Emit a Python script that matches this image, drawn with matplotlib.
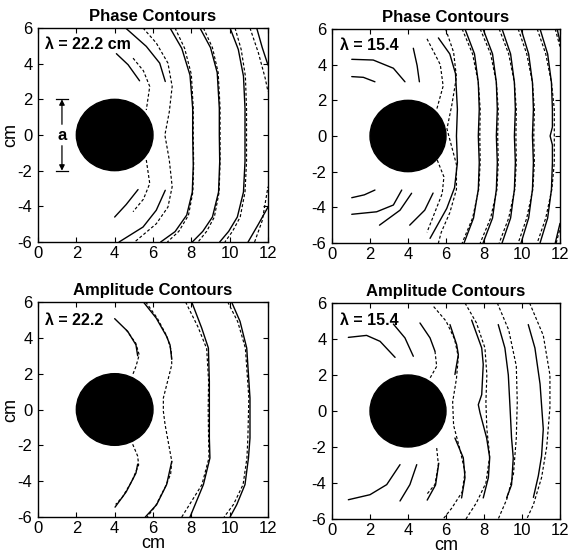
import matplotlib
matplotlib.use("Agg")
import matplotlib.pyplot as plt
from matplotlib.patches import Ellipse

plt.rcParams['font.family'] = ['Liberation Sans', 'DejaVu Sans']
plt.rcParams['axes.unicode_minus'] = False

# ---------------- data (x, y in cm) ----------------
titles = ["Phase Contours", "Phase Contours", "Amplitude Contours", "Amplitude Contours"]
labels = ["\u03bb = 22.2 cm", "\u03bb = 15.4", "\u03bb = 22.2", "\u03bb = 15.4"]
label_pos = [(0.35, 4.82), (0.44, 4.84), (0.35, 4.74), (0.44, 4.79)]
cyl_center = (4.0, 0.0)
cyl_diameter = 4.0

# Panel 1: phase, lambda = 22.2
p1_solid = [
    [(4.09, 4.56), (4.7, 3.94), (5.3, 3.04)],
    [(4.0, -4.6), (4.6, -3.9), (5.22, -3.06)],
    [(4.57, 6.0), (5.65, 4.97), (6.35, 4.03), (6.64, 3.0)],
    [(6.64, -3.1), (6.17, -4.22), (5.48, -5.16), (4.23, -6.0)],
    [(6.89, 6.0), (7.5, 4.86), (7.93, 3.36), (8.07, 1.5), (8.07, 0.0), (8.1, -1.7), (8.05, -3.2), (7.76, -4.49), (7.15, -5.42), (6.4, -6.0)],
    [(8.45, 6.0), (9.0, 4.9), (9.35, 3.5), (9.46, 1.5), (9.46, 0.0), (9.48, -1.5), (9.42, -3.2), (9.1, -4.6), (8.6, -5.4), (8.05, -6.0)],
    [(10.02, 6.0), (10.45, 4.8), (10.72, 3.3), (10.8, 1.5), (10.8, 0.0), (10.8, -1.5), (10.72, -3.2), (10.4, -4.6), (9.95, -5.4), (9.48, -6.0)],
    [(11.41, 6.0), (11.7, 4.9), (12.0, 3.92)],
    [(10.96, -6.0), (11.5, -5.0), (12.0, -4.04)],
]
p1_dashed = [
    [(4.96, 4.31), (5.5, 3.6), (5.83, 2.72), (5.65, 1.4)],
    [(5.65, -1.4), (5.83, -2.72), (5.5, -3.6), (4.96, -4.3)],
    [(5.48, 6.0), (6.17, 5.16), (6.78, 4.03), (7.0, 2.72), (6.85, 1.3), (6.62, 0.0), (6.85, -1.4), (7.0, -2.9), (6.78, -4.04), (6.17, -4.98), (5.04, -6.0)],
    [(7.15, 6.0), (7.65, 4.86), (8.0, 3.4), (8.1, 1.5), (8.1, 0.0), (8.12, -1.7), (8.08, -3.2), (7.85, -4.5), (7.35, -5.4), (6.75, -6.0)],
    [(8.63, 6.0), (9.1, 4.9), (9.4, 3.5), (9.5, 1.5), (9.5, 0.0), (9.5, -1.5), (9.45, -3.2), (9.2, -4.6), (8.8, -5.4), (8.35, -6.0)],
    [(10.28, 6.0), (10.6, 4.8), (10.82, 3.3), (10.88, 1.5), (10.88, 0.0), (10.88, -1.5), (10.8, -3.2), (10.55, -4.6), (10.15, -5.4), (9.75, -6.0)],
    [(11.06, 6.0), (11.5, 4.6), (11.85, 3.2), (12.0, 2.43)],
    [(11.3, -6.0), (11.7, -4.8), (12.0, -2.9)],
]

# Panel 2: phase, lambda = 15.4
p2_solid = [
    [(1.04, 3.33), (1.65, 3.29), (2.26, 3.04)],
    [(1.04, 4.30), (2.17, 4.26), (3.23, 3.80), (3.84, 3.04)],
    [(4.28, 4.92), (4.48, 3.95), (4.6, 3.04)],
    [(1.04, -3.46), (1.7, -3.3), (2.26, -3.03)],
    [(1.04, -4.39), (2.35, -4.25), (3.23, -3.87), (3.67, -3.03)],
    [(2.5, -5.0), (3.58, -4.16), (4.19, -3.21)],
    [(4.09, -5.0), (4.88, -4.16), (5.32, -3.2)],
    [(5.6, 5.5), (6.2, 4.6), (6.5, 3.5), (6.6, 1.5), (6.55, 0.0), (6.6, -1.5), (6.45, -2.9), (6.04, -4.06), (5.16, -5.74)],
    [(7.0, 6.0), (7.5, 4.6), (7.7, 3.0), (7.75, 1.5), (7.7, 0.0), (7.75, -1.5), (7.7, -3.0), (7.45, -4.6), (6.95, -6.0)],
    [(7.95, 6.0), (8.45, 4.6), (8.65, 3.0), (8.7, 1.5), (8.65, 0.0), (8.7, -1.5), (8.65, -3.0), (8.45, -4.6), (7.95, -6.0)],
    [(8.95, 6.0), (9.4, 4.6), (9.6, 3.0), (9.65, 1.5), (9.6, 0.0), (9.65, -1.5), (9.6, -3.0), (9.4, -4.6), (8.95, -6.0)],
    [(9.95, 6.0), (10.35, 4.6), (10.55, 3.0), (10.6, 1.5), (10.55, 0.0), (10.6, -1.5), (10.55, -3.0), (10.35, -4.6), (9.95, -6.0)],
    [(10.95, 6.0), (11.35, 4.6), (11.55, 3.0), (11.6, 1.5), (11.6, 0.5), (11.48, 0.0), (11.6, -0.5), (11.6, -1.5), (11.55, -3.0), (11.35, -4.6), (10.95, -6.0)],
    [(11.85, 6.0), (12.0, 5.3)],
    [(11.75, -6.0), (12.0, -4.9)],
]
p2_dashed = [
    [(5.0, 5.45), (5.7, 4.0), (5.85, 2.8), (5.5, 1.45)],
    [(5.54, -1.35), (5.89, -2.29), (5.8, -3.23), (5.0, -5.4)],
    [(5.98, 6.0), (6.4, 4.7), (6.55, 3.3), (6.3, 1.7), (6.05, 0.4), (6.35, -0.8), (6.55, -1.6), (6.55, -3.0), (6.2, -4.3), (5.75, -5.4), (5.6, -6.0)],
    [(6.85, 6.0), (7.4, 4.6), (7.7, 3.0), (7.8, 1.5), (7.78, 0.0), (7.8, -1.5), (7.72, -3.0), (7.4, -4.6), (6.85, -6.0)],
    [(7.8, 6.0), (8.35, 4.6), (8.65, 3.0), (8.75, 1.5), (8.72, 0.0), (8.75, -1.5), (8.68, -3.0), (8.35, -4.6), (7.8, -6.0)],
    [(8.8, 6.0), (9.3, 4.6), (9.6, 3.0), (9.7, 1.5), (9.68, 0.0), (9.7, -1.5), (9.62, -3.0), (9.3, -4.6), (8.8, -6.0)],
    [(9.8, 6.0), (10.25, 4.6), (10.55, 3.0), (10.65, 1.5), (10.62, 0.0), (10.65, -1.5), (10.57, -3.0), (10.25, -4.6), (9.8, -6.0)],
    [(10.8, 6.0), (11.25, 4.6), (11.55, 3.0), (11.7, 1.5), (11.7, 0.0), (11.7, -1.5), (11.57, -3.0), (11.25, -4.6), (10.8, -6.0)],
    [(11.75, 6.0), (12.0, 5.0)],
    [(11.8, -6.0), (12.0, -5.2)],
]

# Panel 3: amplitude, lambda = 22.2
p3_solid = [
    [(4.0, 5.07), (4.68, 4.36), (5.11, 3.61), (5.2, 3.0)],
    [(5.2, -3.05), (5.11, -3.55), (4.6, -4.6), (4.02, -5.45)],
    [(5.5, 6.0), (6.17, 5.1), (6.7, 4.1), (6.89, 3.6), (6.98, 2.8)],
    [(6.98, -2.89), (6.71, -4.19), (6.19, -5.31), (5.6, -6.0)],
    [(8.02, 6.0), (8.54, 4.55), (8.89, 3.43), (8.94, 1.57), (8.94, -1.59), (8.97, -2.71), (8.63, -4.19), (7.93, -6.0)],
    [(10.1, 6.0), (10.54, 4.92), (10.89, 3.43), (11.06, 0.64), (11.06, -1.59), (10.98, -2.71), (10.8, -4.19), (10.37, -5.31), (10.02, -6.0)],
]
p3_dashed = [
    [(4.6, 4.45), (5.1, 3.7), (5.28, 3.05), (5.11, 2.4), (4.94, 1.94)],
    [(4.94, -1.94), (5.2, -2.6), (5.25, -3.1), (4.9, -4.0), (4.4, -4.9), (4.05, -5.3)],
    [(5.62, 6.0), (6.22, 5.1), (6.72, 4.1), (6.95, 3.3), (6.98, 2.5), (6.54, 0.64), (6.54, -0.1), (6.63, -0.84), (6.98, -2.89), (6.92, -3.6), (6.65, -4.3), (6.15, -5.35), (5.7, -6.0)],
    [(7.7, 6.0), (8.35, 4.6), (8.8, 3.4), (8.9, 1.6), (8.88, 0.0), (8.9, -1.6), (8.92, -2.7), (8.55, -4.2), (7.5, -6.0)],
    [(9.9, 6.0), (10.42, 4.9), (10.82, 3.43), (11.0, 0.64), (10.95, -1.59), (10.9, -2.71), (10.7, -4.19), (10.2, -5.3), (9.71, -6.0)],
]

# Panel 4: amplitude, lambda = 15.4
p4_solid = [
    [(0.86, 4.09), (1.82, 4.2), (2.53, 3.87), (3.32, 2.98)],
    [(3.23, 4.83), (3.84, 4.06), (4.28, 3.04)],
    [(4.63, 4.89), (5.16, 4.06), (5.42, 3.32)],
    [(0.86, -4.93), (2.0, -4.65), (2.88, -4.09), (3.58, -2.98)],
    [(3.58, -5.0), (4.1, -4.09), (4.46, -2.98)],
    [(5.01, -4.95), (5.45, -4.11), (5.62, -2.9)],
    [(6.21, 4.8), (6.56, 3.69), (6.65, 3.13), (6.47, 2.03)],
    [(6.47, -1.5), (6.91, -2.6), (7.0, -3.7), (6.82, -4.83)],
    [(7.35, 5.05), (7.88, 3.5), (7.96, 2.59), (7.88, 0.91), (7.7, 0.35), (7.79, -0.1), (8.14, -1.5), (8.3, -2.6), (8.23, -3.7), (7.96, -4.83)],
    [(8.75, 4.8), (9.1, 3.5), (9.28, 2.0), (9.37, 0.2), (9.45, -1.5), (9.54, -2.6), (9.45, -4.1), (9.19, -4.83)],
    [(10.33, 4.8), (10.68, 3.5), (10.95, 1.5), (11.12, -1.0), (11.03, -2.5), (10.86, -3.6), (10.6, -4.8)],
]
p4_dashed = [
    [(5.42, 3.32), (5.51, 2.48), (5.16, 1.83)],
    [(5.51, -2.06), (5.6, -2.97), (5.42, -4.08), (4.98, -4.64)],
    [(5.35, 5.8), (6.0, 5.0), (6.45, 4.0), (6.65, 3.0), (6.55, 1.8), (6.35, 0.5), (6.4, -0.8), (6.75, -2.2), (7.0, -3.4), (6.85, -4.5), (6.3, -5.4), (5.85, -6.0)],
    [(7.0, 6.0), (7.6, 4.9), (8.05, 3.5), (8.15, 2.0), (8.1, 0.5), (8.15, -1.0), (8.3, -2.5), (8.1, -4.0), (7.6, -5.1), (7.05, -6.0)],
    [(8.7, 6.0), (9.3, 4.5), (9.7, 2.5), (9.75, 0.5), (9.7, -1.5), (9.55, -3.5), (9.2, -4.9), (8.75, -6.0)],
    [(10.4, 6.0), (11.12, 4.2), (11.47, 2.0), (11.47, 0.2), (11.3, -2.0), (11.03, -3.7), (10.6, -5.2), (10.25, -6.0)],
]

x_ticks = [0, 2, 4, 6, 8, 10, 12]
y_ticks = [-6, -4, -2, 0, 2, 4, 6]

# ---------------- figure ----------------
fig = plt.figure(figsize=(5.68, 5.56), dpi=100)
rects = [
    (38 / 568, 1 - 242 / 556, 230 / 568, 214 / 556),
    (332 / 568, 1 - 243 / 556, 228 / 568, 214 / 556),
    (38 / 568, 1 - 517 / 556, 230 / 568, 215 / 556),
    (332 / 568, 1 - 519 / 556, 228 / 568, 216 / 556),
]
solids = [p1_solid, p2_solid, p3_solid, p4_solid]
dasheds = [p1_dashed, p2_dashed, p3_dashed, p4_dashed]

for i in range(4):
    ax = fig.add_axes(rects[i])
    ax.set_xlim(0, 12)
    ax.set_ylim(-6, 6)
    ax.set_xticks(x_ticks)
    ax.set_yticks(y_ticks)
    ax.tick_params(direction='in', top=True, right=True, length=3.5, width=0.8,
                   labelsize=12)
    ax.tick_params(axis='y', pad=4)
    ax.tick_params(axis='x', pad=3)
    for s in ax.spines.values():
        s.set_linewidth(1.0)
    ax.add_patch(Ellipse(cyl_center, cyl_diameter, cyl_diameter, facecolor='black',
                         edgecolor='black', zorder=3))
    for line in solids[i]:
        xs = [p[0] for p in line]
        ys = [p[1] for p in line]
        ax.plot(xs, ys, color='black', lw=1.0, solid_capstyle='round',
                solid_joinstyle='round')
    for line in dasheds[i]:
        xs = [p[0] for p in line]
        ys = [p[1] for p in line]
        ax.plot(xs, ys, color='black', lw=0.85, dashes=(2.5, 1.8))
    ax.set_title(titles[i], fontsize=12, fontweight='bold', pad=5)
    ax.text(label_pos[i][0], label_pos[i][1], labels[i], fontsize=11.5,
            fontweight='bold', ha='left', va='baseline')
    if i in (0, 2):
        ax.set_ylabel('cm', fontsize=13, labelpad=-1)
    if i in (2, 3):
        ax.set_xlabel('cm', fontsize=13, labelpad=-1)
    if i == 0:
        ax.plot([0.95, 1.55], [2, 2], color='black', lw=0.9)
        ax.plot([0.95, 1.55], [-2, -2], color='black', lw=0.9)
        ax.annotate('', xy=(1.25, 2.0), xytext=(1.25, 0.6),
                    arrowprops=dict(arrowstyle='-|>', color='black', lw=0.9,
                                    shrinkA=0, shrinkB=0, mutation_scale=8))
        ax.annotate('', xy=(1.25, -2.0), xytext=(1.25, -0.6),
                    arrowprops=dict(arrowstyle='-|>', color='black', lw=0.9,
                                    shrinkA=0, shrinkB=0, mutation_scale=8))
        ax.text(1.25, 0.0, 'a', fontsize=12, fontweight='bold', ha='center', va='center')

fig.savefig('out.png', dpi=100)
